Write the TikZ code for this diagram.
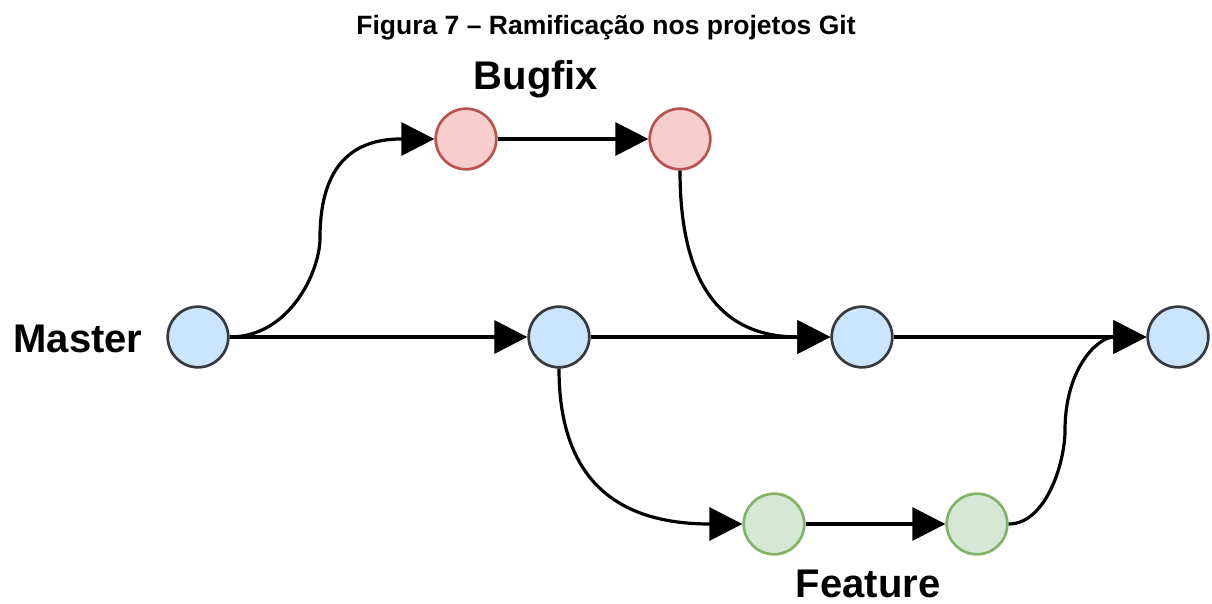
\documentclass[tikz,border=0pt]{standalone}
\usepackage{fontspec}
\setmainfont{Liberation Sans}
\usetikzlibrary{arrows.meta}
\definecolor{bfill}{HTML}{CCE5FF}
\definecolor{bdraw}{HTML}{36393D}
\definecolor{rfill}{HTML}{F8CECC}
\definecolor{rdraw}{HTML}{B85450}
\definecolor{gfill}{HTML}{D5E8D4}
\definecolor{gdraw}{HTML}{82B366}
\begin{document}
\begin{tikzpicture}[x=1pt,y=-1pt,
  commit/.style={circle, minimum size=60.6pt, inner sep=0pt, line width=2.7pt},
  bluec/.style={commit, fill=bfill, draw=bdraw},
  redc/.style={commit, fill=rfill, draw=rdraw},
  greenc/.style={commit, fill=gfill, draw=gdraw},
  link/.style={line width=3.2pt, -{Triangle[length=33pt,width=33pt]}},
  lbl/.style={font=\fontsize{40}{48}\selectfont\bfseries, anchor=base, inner sep=0pt},
  ttl/.style={font=\fontsize{26.5}{32}\selectfont\bfseries, anchor=base, inner sep=0pt}
]
\useasboundingbox (0,0) rectangle (1212,604);

\node[ttl] (title) at (606,35) {Figura 7 – Ramificação nos projetos Git};

\node[bluec] (m1) at (198,337) {};
\node[bluec] (m2) at (559,337) {};
\node[bluec] (m3) at (862,337) {};
\node[bluec] (m4) at (1178,337) {};
\node[redc] (b1) at (466,139) {};
\node[redc] (b2) at (680,139) {};
\node[greenc] (f1) at (774,524) {};
\node[greenc] (f2) at (977,524) {};

\node[lbl] (lmaster) at (78,352) {Master};
\node[lbl] (lbugfix) at (536,90) {Bugfix};
\node[lbl] (lfeature) at (868,597) {Feature};

% straight commits
\draw[link] (m1.east) -- (m2.west);
\draw[link] (m2.east) -- (m3.west);
\draw[link] (m3.east) -- (m4.west);
\draw[link] (b1.east) -- (b2.west);
\draw[link] (f1.east) -- (f2.west);

% branch to bugfix
\draw[link] (m1.east) .. controls (290,337) and (320,271) .. (320,238)
  .. controls (320,172) and (347,139) .. (401,139) -- (b1.west);
% merge bugfix
\draw[link] (b2.south) .. controls (680,281.7) and (719.3,337) .. (798,337) -- (m3.west);
% branch to feature
\draw[link] (m2.south) .. controls (559,472.3) and (609.3,524) .. (710,524) -- (f1.west);
% merge feature
\draw[link] (f2.east) .. controls (1046.3,524) and (1065,462) .. (1065,430.5)
  .. controls (1065,368.2) and (1097.7,337) .. (1114,337) -- (m4.west);
\end{tikzpicture}
\end{document}
